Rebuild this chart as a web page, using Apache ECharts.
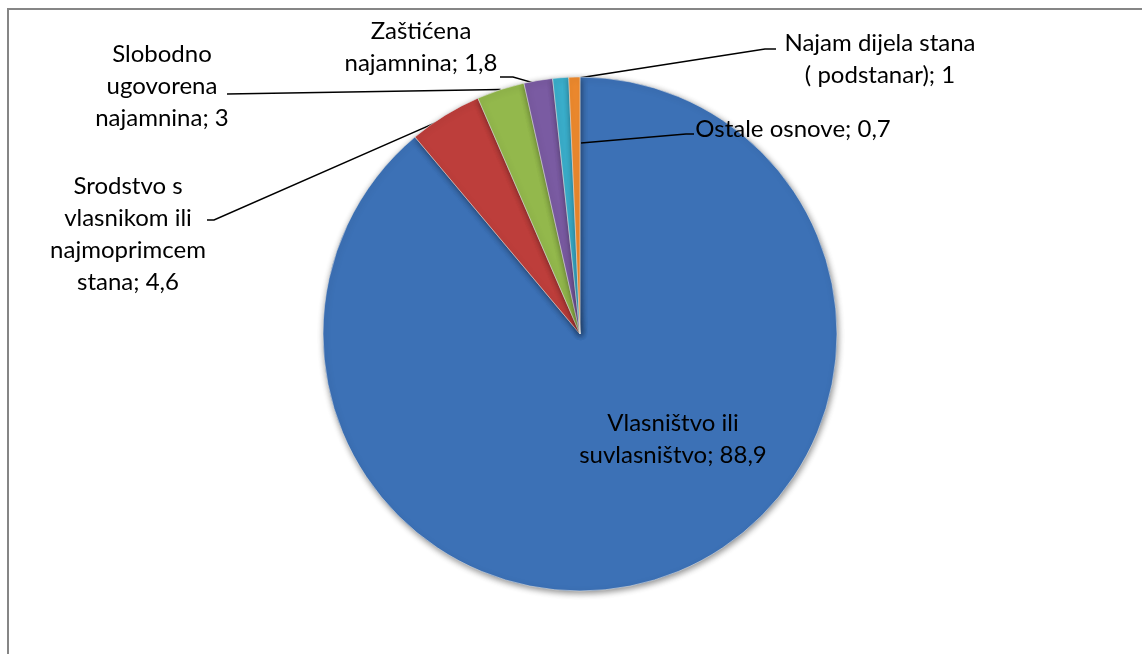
<!DOCTYPE html>
<html><head><meta charset="utf-8">
<script src="https://cdn.jsdelivr.net/npm/echarts@6/dist/echarts.min.js"></script>
<style>html,body{margin:0;padding:0;background:#fff;overflow:hidden}#c{width:1142px;height:654px}</style>
</head><body><div id="c"></div>
<script>
// ---- data ----
const categories = [
  'Vlasništvo ili suvlasništvo',
  'Srodstvo s vlasnikom ili najmoprimcem stana',
  'Slobodno ugovorena najamnina',
  'Zaštićena najamnina',
  'Najam dijela stana (podstanar)',
  'Ostale osnove'
];
const values = [88.9, 4.6, 3, 1.8, 1, 0.7];
const labelTexts = [
  'Vlasništvo ili\nsuvlasništvo',
  'Srodstvo s\nvlasnikom ili\nnajmoprimcem\nstana',
  'Slobodno\nugovorena\nnajamnina',
  'Zaštićena\nnajamnina',
  'Najam dijela stana\n( podstanar)',
  'Ostale osnove'
];
// ---- styles / layout ----
const colors = ['#3c71b6', '#bd3e3b', '#93b84c', '#7a5ba2', '#3aaecb', '#ee8a2e'];
const labelPos = [[673, 439], [128, 234], [162, 86], [421, 47], [880, 59], [793, 129]];
// leader-line label-side end point and bend point, plus inward pull of the slice-side start
const leaderEnds = [null,
  {end: [207, 220], bend: [214, 220], pull: 3},
  {end: [227, 94], bend: [227, 94], pull: 0},
  {end: [500, 77], bend: [513, 77], pull: 4},
  {end: [776, 49], bend: [765, 49], pull: 3},
  {end: [694, 134], bend: [686, 134], pull: 66}
];
const CX = 580, CY = 334, R = 257;

const fmt = v => String(v).replace('.', ',');

const chart = echarts.init(document.getElementById('c'), null, {renderer: 'canvas'});
const data = categories.map((c, i) => ({
  name: c,
  value: values[i],
  itemStyle: {color: colors[i]},
  label: i === 0 ? {position: 'inside'} : {position: 'outside'},
  labelLine: {show: i !== 0}
}));

const frame = {
  type: 'rect',
  shape: {x: 8, y: 9, width: 1300, height: 800},
  style: {fill: 'none', stroke: '#868686', lineWidth: 2},
  silent: true
};

chart.setOption({
  animation: false,
  backgroundColor: '#ffffff',
  graphic: [frame],
  series: [{
    type: 'pie',
    center: [CX, CY],
    radius: R,
    startAngle: 90,
    clockwise: true,
    avoidLabelOverlap: false,
    itemStyle: {
      borderColor: 'rgba(230,230,230,0.55)',
      borderWidth: 1,
      shadowBlur: 6,
      shadowColor: 'rgba(0,0,0,0.45)',
      shadowOffsetX: 1,
      shadowOffsetY: 2
    },
    label: {
      formatter: p => labelTexts[p.dataIndex] + '; ' + fmt(p.value),
      fontFamily: 'Lato',
      fontSize: 24,
      lineHeight: 32,
      color: '#000000',
      align: 'center'
    },
    labelLine: {
      length: 10,
      length2: 10,
      smooth: false,
      lineStyle: {color: '#000000', width: 1.5}
    },
    labelLayout: function (params) {
      const i = params.dataIndex;
      const p = labelPos[i];
      const out = {x: p[0], y: p[1], align: 'center', verticalAlign: 'middle'};
      const le = leaderEnds[i];
      if (le && params.labelLinePoints && params.labelLinePoints.length) {
        const s = params.labelLinePoints[0];
        const dx = s[0] - CX, dy = s[1] - CY;
        const d = Math.sqrt(dx * dx + dy * dy) || 1;
        const k = (d - le.pull) / d;
        const start = [CX + dx * k, CY + dy * k];
        out.labelLinePoints = [start, le.bend, le.end];
      }
      return out;
    },
    emphasis: {disabled: true},
    data: data
  }]
});

// Leader line for the last slice, anchored on the library's own sector layout
(function () {
  const sd = chart.getModel().getSeriesByIndex(0).getData();
  const idx = values.length - 1;
  const lay = sd.getItemLayout(idx);
  const le = leaderEnds[idx];
  if (!lay) return;
  const a = lay.endAngle;
  const rr = lay.r - le.pull;
  const start = [lay.cx + rr * Math.cos(a) + 1, lay.cy + rr * Math.sin(a)];
  chart.setOption({
    graphic: [frame, {
      type: 'polyline',
      shape: {points: [start, le.bend, le.end]},
      style: {stroke: '#000000', lineWidth: 1.5, fill: null},
      z: 100,
      silent: true
    }]
  });
})();
</script>
</body></html>
